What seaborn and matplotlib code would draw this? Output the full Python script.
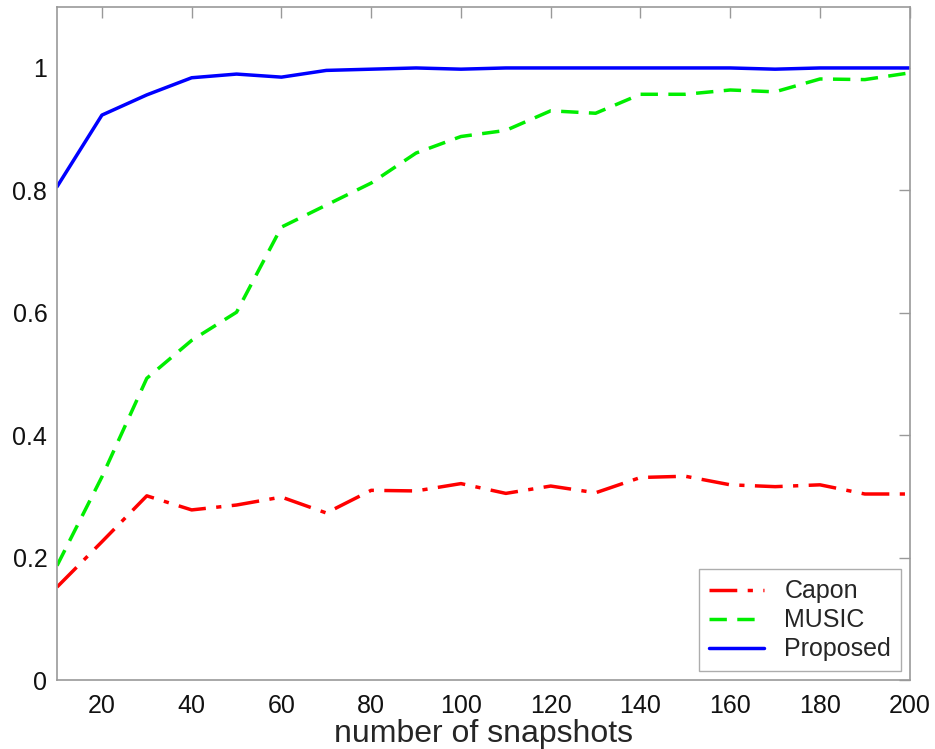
import numpy as np
import pandas as pd
import seaborn as sns
from matplotlib import pyplot as plt

snapshots = [10, 20, 30, 40, 50, 60, 70, 80, 90, 100,
             110, 120, 130, 140, 150, 160, 170, 180, 190, 200]
capon = [0.152, 0.226, 0.301, 0.278, 0.286, 0.299, 0.273, 0.310, 0.309, 0.321,
         0.305, 0.317, 0.306, 0.331, 0.333, 0.319, 0.316, 0.319, 0.304, 0.304]
music = [0.187, 0.332, 0.493, 0.555, 0.601, 0.740, 0.776, 0.812, 0.861, 0.888,
         0.898, 0.930, 0.926, 0.957, 0.957, 0.964, 0.961, 0.982, 0.981, 0.992]
proposed = [0.806, 0.923, 0.956, 0.984, 0.990, 0.985, 0.996, 0.998, 1.0, 0.998,
            1.0, 1.0, 1.0, 1.0, 1.0, 1.0, 0.998, 1.0, 1.0, 1.0]

df = pd.DataFrame({"snapshots": snapshots, "Capon": capon,
                   "MUSIC": music, "Proposed": proposed})

sns.set_style("white")
plt.rcParams['font.family'] = ['Liberation Sans Narrow', 'Liberation Sans', 'DejaVu Sans']

fig = plt.figure(figsize=(9.35, 7.49), dpi=100)
ax = fig.add_axes([0.061, 0.092, 0.912, 0.899])

sns.lineplot(data=df, x="snapshots", y="Capon", ax=ax, color="#ff0000",
             lw=2.5, label="Capon")
sns.lineplot(data=df, x="snapshots", y="MUSIC", ax=ax, color="#00ee00",
             lw=2.5, label="MUSIC")
sns.lineplot(data=df, x="snapshots", y="Proposed", ax=ax, color="#0000ff",
             lw=2.5, label="Proposed")
ax.lines[0].set_dashes([8, 3, 1.5, 3])
ax.lines[1].set_dashes([5, 3])

ax.set_xlim(10, 200)
ax.set_ylim(0, 1.1)
ax.set_xticks(range(20, 201, 20))
ax.set_yticks([0, 0.2, 0.4, 0.6, 0.8, 1.0])
ax.set_yticklabels(["0", "0.2", "0.4", "0.6", "0.8", "1"])
ax.set_xlabel("number of snapshots", fontsize=23, labelpad=1)
ax.set_ylabel("")

for sp in ax.spines.values():
    sp.set_color("#999999")
    sp.set_linewidth(1.2)
ax.tick_params(direction="in", length=8, width=1, color="#999999",
               top=True, right=True, labelsize=18, labelcolor="#111111")
ax.tick_params(axis="x", pad=10)
ax.tick_params(axis="y", pad=7)

leg = ax.legend(loc="lower right", fontsize=18, frameon=True, fancybox=False,
                edgecolor="#999999", handlelength=2.2, borderaxespad=0.35,
                labelspacing=0.2)
leg.get_frame().set_linewidth(1.0)

fig.savefig("out.png", dpi=100)
